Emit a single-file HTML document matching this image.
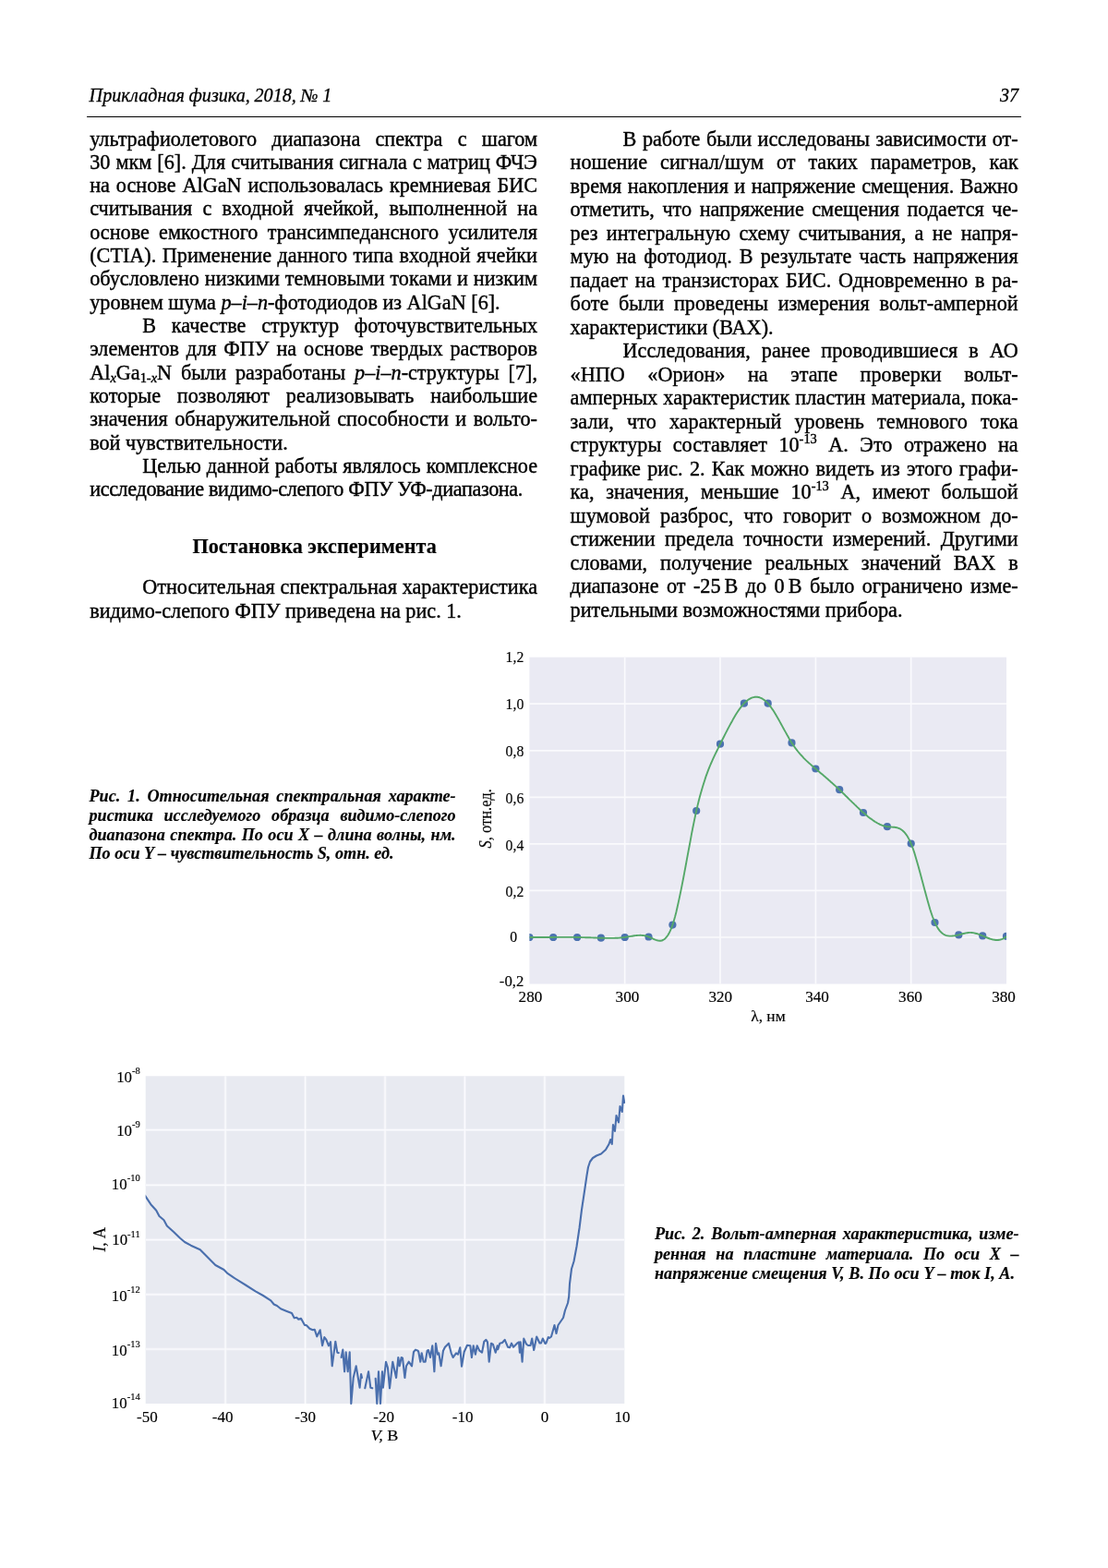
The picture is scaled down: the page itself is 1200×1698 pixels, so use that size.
<!DOCTYPE html>
<html lang="ru"><head><meta charset="utf-8"><title>Прикладная физика, 2018, № 1</title>
<style>
html,body{margin:0;padding:0;background:#fff}
body{width:1200px;height:1698px;position:relative;overflow:hidden;font-family:"Liberation Serif",serif;color:#000}
.l{position:absolute;white-space:nowrap;margin:0;-webkit-text-stroke:0.4px #000}
.b,.h{font-size:22.2px;line-height:26px;height:26px}
.h{font-weight:bold;-webkit-text-stroke-width:0.15px}
.hd{font-size:20.15px;line-height:24px;height:24px;font-style:italic;-webkit-text-stroke-width:0.3px}
.c{font-size:18.15px;line-height:21px;height:21px;font-style:italic;font-weight:bold;-webkit-text-stroke-width:0.15px}
.sb{font-size:14.4px;position:relative;top:3.2px;line-height:0}
.sp{font-size:14.4px;position:relative;top:-9px;line-height:0}
.ns{font-size:16px;word-spacing:0}
.rule{position:absolute;left:94px;top:125.5px;width:1012.2px;height:1.6px;background:#000}
svg{position:absolute;left:0;top:0}
svg text{font-family:"Liberation Serif",serif;fill:#000;stroke:#000;stroke-width:0.15px}
.t{font-size:16px}
.t2{font-size:17.2px}
.t3{font-size:17px}
.g{stroke:#fafafd;stroke-width:1.7}
.g2{stroke:#fbfbfe;stroke-width:1.2}
.g2h{stroke:#eff0f6;stroke-width:3}
</style></head><body>
<div class="rule"></div>
<div class="l b" style="left:97.20px;top:137px;line-height:27px;height:27px;word-spacing:10.704px">ультрафиолетового диапазона спектра с шагом</div>
<div class="l b" style="left:97.20px;top:162px;line-height:27px;height:27px;word-spacing:0.481px">30 мкм [6]. Для считывания сигнала с матриц ФЧЭ</div>
<div class="l b" style="left:97.20px;top:188px;word-spacing:1.404px">на основе AlGaN использовалась кремниевая БИС</div>
<div class="l b" style="left:97.20px;top:213px;word-spacing:5.666px">считывания с входной ячейкой, выполненной на</div>
<div class="l b" style="left:97.20px;top:238px;line-height:27px;height:27px;word-spacing:4.709px">основе емкостного трансимпедансного усилителя</div>
<div class="l b" style="left:97.20px;top:264px;word-spacing:0.963px">(CTIA). Применение данного типа входной ячейки</div>
<div class="l b" style="left:97.20px;top:289px;word-spacing:0.326px">обусловлено низкими темновыми токами и низким</div>
<div class="l b" style="left:97.20px;top:314px;line-height:27px;height:27px">уровнем шума <i>p–i–n</i>-фотодиодов из AlGaN [6].</div>
<div class="l b" style="left:154.20px;top:340px;word-spacing:11.220px">В качестве структур фоточувствительных</div>
<div class="l b" style="left:97.20px;top:365px;word-spacing:2.331px">элементов для ФПУ на основе твердых растворов</div>
<div class="l b" style="left:97.20px;top:390px;line-height:27px;height:27px;word-spacing:4.302px">Al<span class="sb"><i>x</i></span>Ga<span class="sb">1-<i>x</i></span>N были разработаны <i>p–i–n</i>-структуры [7],</div>
<div class="l b" style="left:97.20px;top:415px;line-height:27px;height:27px;word-spacing:12.324px">которые позволяют реализовывать наибольшие</div>
<div class="l b" style="left:97.20px;top:441px;word-spacing:1.950px">значения обнаружительной способности и вольто-</div>
<div class="l b" style="left:97.20px;top:466px;line-height:27px;height:27px">вой чувствительности.</div>
<div class="l b" style="left:154.20px;top:491px;line-height:27px;height:27px;word-spacing:0.454px">Целью данной работы являлось комплексное</div>
<div class="l b" style="left:97.20px;top:517px;letter-spacing:-0.381px">исследование видимо-слепого ФПУ УФ-диапазона.</div>
<div class="l h" style="left:208.45px;top:579px">Постановка эксперимента</div>
<div class="l b" style="left:154.20px;top:623px;word-spacing:0.252px">Относительная спектральная характеристика</div>
<div class="l b" style="left:97.20px;top:649px">видимо-слепого ФПУ приведена на рис. 1.</div>
<div class="l b" style="left:674.60px;top:137px;line-height:27px;height:27px;word-spacing:0.954px">В работе были исследованы зависимости от-</div>
<div class="l b" style="left:617.60px;top:163px;word-spacing:8.420px">ношение сигнал/шум от таких параметров, как</div>
<div class="l b" style="left:617.60px;top:188px;line-height:27px;height:27px;word-spacing:0.883px">время накопления и напряжение смещения. Важно</div>
<div class="l b" style="left:617.60px;top:214px;word-spacing:2.992px">отметить, что напряжение смещения подается че-</div>
<div class="l b" style="left:617.60px;top:239px;line-height:27px;height:27px;word-spacing:3.728px">рез интегральную схему считывания, а не напря-</div>
<div class="l b" style="left:617.60px;top:265px;word-spacing:2.538px">мую на фотодиод. В результате часть напряжения</div>
<div class="l b" style="left:617.60px;top:290px;line-height:27px;height:27px;word-spacing:2.306px">падает на транзисторах БИС. Одновременно в ра-</div>
<div class="l b" style="left:617.60px;top:316px;word-spacing:5.259px">боте были проведены измерения вольт-амперной</div>
<div class="l b" style="left:617.60px;top:341px;line-height:27px;height:27px">характеристики (ВАХ).</div>
<div class="l b" style="left:674.60px;top:367px;word-spacing:6.455px">Исследования, ранее проводившиеся в АО</div>
<div class="l b" style="left:617.60px;top:392px;line-height:27px;height:27px;word-spacing:19.001px">«НПО «Орион» на этапе проверки вольт-</div>
<div class="l b" style="left:617.60px;top:418px;word-spacing:0.654px">амперных характеристик пластин материала, пока-</div>
<div class="l b" style="left:617.60px;top:443px;line-height:27px;height:27px;word-spacing:8.633px">зали, что характерный уровень темнового тока</div>
<div class="l b" style="left:617.60px;top:469px;word-spacing:6.931px">структуры составляет 10<span class="sp">-13</span> А. Это отражено на</div>
<div class="l b" style="left:617.60px;top:494px;line-height:27px;height:27px;word-spacing:1.757px">графике рис. 2. Как можно видеть из этого графи-</div>
<div class="l b" style="left:617.60px;top:520px;word-spacing:7.191px">ка, значения, меньшие 10<span class="sp">-13</span> А, имеют большой</div>
<div class="l b" style="left:617.60px;top:545px;line-height:27px;height:27px;word-spacing:5.626px">шумовой разброс, что говорит о возможном до-</div>
<div class="l b" style="left:617.60px;top:571px;word-spacing:5.037px">стижении предела точности измерений. Другими</div>
<div class="l b" style="left:617.60px;top:596px;line-height:27px;height:27px;word-spacing:8.389px">словами, получение реальных значений ВАХ в</div>
<div class="l b" style="left:617.60px;top:622px;word-spacing:2.914px">диапазоне от -25<span class="ns"> </span>В до 0<span class="ns"> </span>В было ограничено изме-</div>
<div class="l b" style="left:617.60px;top:647px;line-height:27px;height:27px">рительными возможностями прибора.</div>
<div class="l hd" style="left:96.60px;top:91px;word-spacing:-0.341px">Прикладная физика, 2018, № 1</div>
<div class="l hd" style="left:1083.00px;top:91px">37</div>
<div class="l c" style="left:96.50px;top:852px;word-spacing:3.275px">Рис. 1. Относительная спектральная характе-</div>
<div class="l c" style="left:96.50px;top:873px;word-spacing:7.273px">ристика исследуемого образца видимо-слепого</div>
<div class="l c" style="left:96.50px;top:894px;word-spacing:0.923px">диапазона спектра. По оси X – длина волны, нм.</div>
<div class="l c" style="left:96.50px;top:914px;word-spacing:0.054px">По оси Y – чувствительность S, отн. ед.</div>
<div class="l c" style="left:709.00px;top:1326px;word-spacing:2.377px">Рис. 2. Вольт-амперная характеристика, изме-</div>
<div class="l c" style="left:709.00px;top:1347px;line-height:22px;height:22px;word-spacing:6.150px">ренная на пластине материала. По оси X –</div>
<div class="l c" style="left:709.00px;top:1368px;line-height:22px;height:22px;word-spacing:0.158px">напряжение смещения V, В. По оси Y – ток I, А.</div>
<svg width="1200" height="1698" viewBox="0 0 1200 1698">
<rect x="573.4" y="711.7" width="516.6" height="353.8" fill="#eaeaf3"/>
<line x1="676.7" x2="676.7" y1="711.7" y2="1065.5" class="g"/>
<line x1="780.0" x2="780.0" y1="711.7" y2="1065.5" class="g"/>
<line x1="883.4" x2="883.4" y1="711.7" y2="1065.5" class="g"/>
<line x1="986.7" x2="986.7" y1="711.7" y2="1065.5" class="g"/>
<line x1="573.4" x2="1090.0" y1="762.2" y2="762.2" class="g"/>
<line x1="573.4" x2="1090.0" y1="812.8" y2="812.8" class="g"/>
<line x1="573.4" x2="1090.0" y1="863.3" y2="863.3" class="g"/>
<line x1="573.4" x2="1090.0" y1="913.9" y2="913.9" class="g"/>
<line x1="573.4" x2="1090.0" y1="964.4" y2="964.4" class="g"/>
<line x1="573.4" x2="1090.0" y1="1015.0" y2="1015.0" class="g"/>
<clipPath id="cp1"><rect x="573.4" y="711.7" width="516.6" height="353.8"/></clipPath>
<g clip-path="url(#cp1)">
<circle cx="573.4" cy="1015.0" r="4.1" fill="#4c72b0"/>
<circle cx="599.2" cy="1015.0" r="4.1" fill="#4c72b0"/>
<circle cx="625.1" cy="1015.0" r="4.1" fill="#4c72b0"/>
<circle cx="650.9" cy="1015.7" r="4.1" fill="#4c72b0"/>
<circle cx="676.7" cy="1015.0" r="4.1" fill="#4c72b0"/>
<circle cx="702.5" cy="1014.5" r="4.1" fill="#4c72b0"/>
<circle cx="728.4" cy="1001.6" r="4.1" fill="#4c72b0"/>
<circle cx="754.2" cy="878.0" r="4.1" fill="#4c72b0"/>
<circle cx="780.0" cy="805.7" r="4.1" fill="#4c72b0"/>
<circle cx="805.9" cy="761.7" r="4.1" fill="#4c72b0"/>
<circle cx="831.7" cy="761.7" r="4.1" fill="#4c72b0"/>
<circle cx="857.5" cy="804.4" r="4.1" fill="#4c72b0"/>
<circle cx="883.4" cy="832.5" r="4.1" fill="#4c72b0"/>
<circle cx="909.2" cy="855.2" r="4.1" fill="#4c72b0"/>
<circle cx="935.0" cy="880.0" r="4.1" fill="#4c72b0"/>
<circle cx="960.9" cy="895.2" r="4.1" fill="#4c72b0"/>
<circle cx="986.7" cy="913.6" r="4.1" fill="#4c72b0"/>
<circle cx="1012.5" cy="999.0" r="4.1" fill="#4c72b0"/>
<circle cx="1038.3" cy="1012.4" r="4.1" fill="#4c72b0"/>
<circle cx="1064.2" cy="1013.4" r="4.1" fill="#4c72b0"/>
<circle cx="1090.0" cy="1013.9" r="4.1" fill="#4c72b0"/>
<path d="M573.4,1015.0 L574.7,1015.0 L576.0,1015.0 L577.3,1015.0 L578.6,1015.0 L579.9,1015.0 L581.1,1015.0 L582.4,1015.0 L583.7,1015.0 L585.0,1015.0 L586.3,1015.0 L587.6,1015.0 L588.9,1015.0 L590.2,1015.0 L591.5,1015.0 L592.8,1015.0 L594.1,1015.0 L595.4,1015.0 L596.6,1015.0 L597.9,1015.0 L599.2,1015.0 L600.5,1014.9 L601.8,1014.9 L603.1,1014.9 L604.4,1014.9 L605.7,1014.9 L607.0,1014.9 L608.3,1014.9 L609.6,1014.9 L610.9,1014.9 L612.1,1014.9 L613.4,1014.9 L614.7,1014.9 L616.0,1014.9 L617.3,1014.9 L618.6,1014.9 L619.9,1014.9 L621.2,1014.9 L622.5,1014.9 L623.8,1014.9 L625.1,1015.0 L626.4,1015.0 L627.6,1015.0 L628.9,1015.0 L630.2,1015.1 L631.5,1015.1 L632.8,1015.1 L634.1,1015.2 L635.4,1015.2 L636.7,1015.2 L638.0,1015.3 L639.3,1015.3 L640.6,1015.4 L641.8,1015.4 L643.1,1015.5 L644.4,1015.5 L645.7,1015.5 L647.0,1015.6 L648.3,1015.6 L649.6,1015.7 L650.9,1015.7 L652.2,1015.8 L653.5,1015.8 L654.8,1015.8 L656.1,1015.9 L657.3,1015.9 L658.6,1015.9 L659.9,1015.9 L661.2,1015.9 L662.5,1015.9 L663.8,1015.9 L665.1,1015.9 L666.4,1015.8 L667.7,1015.8 L669.0,1015.7 L670.3,1015.6 L671.6,1015.5 L672.8,1015.4 L674.1,1015.3 L675.4,1015.1 L676.7,1015.0 L678.0,1014.8 L679.3,1014.6 L680.6,1014.3 L681.9,1014.1 L683.2,1013.9 L684.5,1013.7 L685.8,1013.5 L687.1,1013.3 L688.3,1013.1 L689.6,1013.0 L690.9,1012.9 L692.2,1012.9 L693.5,1012.8 L694.8,1012.9 L696.1,1013.0 L697.4,1013.1 L698.7,1013.3 L700.0,1013.6 L701.3,1014.0 L702.5,1014.5 L703.8,1015.0 L705.1,1015.6 L706.4,1016.2 L707.7,1016.8 L709.0,1017.4 L710.3,1017.9 L711.6,1018.3 L712.9,1018.6 L714.2,1018.8 L715.5,1018.8 L716.8,1018.5 L718.0,1018.0 L719.3,1017.2 L720.6,1016.2 L721.9,1014.7 L723.2,1013.0 L724.5,1010.8 L725.8,1008.2 L727.1,1005.1 L728.4,1001.6 L729.7,997.5 L731.0,993.0 L732.3,988.0 L733.5,982.7 L734.8,976.9 L736.1,970.9 L737.4,964.6 L738.7,958.1 L740.0,951.5 L741.3,944.6 L742.6,937.7 L743.9,930.7 L745.2,923.7 L746.5,916.8 L747.8,909.9 L749.0,903.1 L750.3,896.5 L751.6,890.1 L752.9,883.9 L754.2,878.0 L755.5,872.4 L756.8,867.1 L758.1,862.1 L759.4,857.4 L760.7,852.9 L762.0,848.7 L763.3,844.7 L764.5,840.9 L765.8,837.4 L767.1,833.9 L768.4,830.7 L769.7,827.5 L771.0,824.6 L772.3,821.7 L773.6,818.9 L774.9,816.2 L776.2,813.5 L777.5,810.9 L778.7,808.3 L780.0,805.7 L781.3,803.1 L782.6,800.5 L783.9,798.0 L785.2,795.4 L786.5,792.9 L787.8,790.3 L789.1,787.9 L790.4,785.4 L791.7,783.0 L793.0,780.7 L794.2,778.4 L795.5,776.2 L796.8,774.0 L798.1,772.0 L799.4,770.0 L800.7,768.1 L802.0,766.4 L803.3,764.7 L804.6,763.2 L805.9,761.7 L807.2,760.4 L808.5,759.3 L809.7,758.2 L811.0,757.3 L812.3,756.6 L813.6,755.9 L814.9,755.4 L816.2,755.1 L817.5,754.8 L818.8,754.7 L820.1,754.8 L821.4,755.0 L822.7,755.3 L824.0,755.8 L825.2,756.4 L826.5,757.2 L827.8,758.1 L829.1,759.2 L830.4,760.4 L831.7,761.7 L833.0,763.2 L834.3,764.9 L835.6,766.7 L836.9,768.6 L838.2,770.6 L839.4,772.6 L840.7,774.8 L842.0,777.0 L843.3,779.3 L844.6,781.6 L845.9,784.0 L847.2,786.4 L848.5,788.7 L849.8,791.1 L851.1,793.4 L852.4,795.8 L853.7,798.0 L854.9,800.2 L856.2,802.4 L857.5,804.4 L858.8,806.4 L860.1,808.3 L861.4,810.1 L862.7,811.8 L864.0,813.5 L865.3,815.1 L866.6,816.6 L867.9,818.0 L869.2,819.4 L870.4,820.8 L871.7,822.1 L873.0,823.4 L874.3,824.6 L875.6,825.8 L876.9,826.9 L878.2,828.1 L879.5,829.2 L880.8,830.3 L882.1,831.4 L883.4,832.5 L884.7,833.6 L885.9,834.7 L887.2,835.8 L888.5,836.9 L889.8,838.0 L891.1,839.1 L892.4,840.2 L893.7,841.3 L895.0,842.4 L896.3,843.5 L897.6,844.7 L898.9,845.8 L900.1,847.0 L901.4,848.1 L902.7,849.3 L904.0,850.4 L905.3,851.6 L906.6,852.8 L907.9,854.0 L909.2,855.2 L910.5,856.5 L911.8,857.7 L913.1,859.0 L914.4,860.2 L915.6,861.5 L916.9,862.7 L918.2,864.0 L919.5,865.3 L920.8,866.6 L922.1,867.8 L923.4,869.1 L924.7,870.3 L926.0,871.6 L927.3,872.8 L928.6,874.1 L929.9,875.3 L931.1,876.5 L932.4,877.7 L933.7,878.9 L935.0,880.0 L936.3,881.1 L937.6,882.2 L938.9,883.3 L940.2,884.4 L941.5,885.4 L942.8,886.4 L944.1,887.3 L945.4,888.3 L946.6,889.1 L947.9,890.0 L949.2,890.7 L950.5,891.5 L951.8,892.1 L953.1,892.8 L954.4,893.3 L955.7,893.8 L957.0,894.3 L958.3,894.6 L959.6,894.9 L960.9,895.2 L962.1,895.3 L963.4,895.4 L964.7,895.5 L966.0,895.6 L967.3,895.7 L968.6,895.8 L969.9,896.0 L971.2,896.2 L972.5,896.6 L973.8,897.1 L975.1,897.7 L976.3,898.5 L977.6,899.5 L978.9,900.7 L980.2,902.2 L981.5,903.8 L982.8,905.8 L984.1,908.1 L985.4,910.7 L986.7,913.6 L988.0,916.9 L989.3,920.5 L990.6,924.4 L991.8,928.6 L993.1,933.0 L994.4,937.5 L995.7,942.2 L997.0,947.1 L998.3,951.9 L999.6,956.8 L1000.9,961.7 L1002.2,966.5 L1003.5,971.3 L1004.8,975.9 L1006.1,980.4 L1007.3,984.7 L1008.6,988.7 L1009.9,992.5 L1011.2,995.9 L1012.5,999.0 L1013.8,1001.8 L1015.1,1004.1 L1016.4,1006.2 L1017.7,1007.9 L1019.0,1009.3 L1020.3,1010.5 L1021.6,1011.5 L1022.8,1012.2 L1024.1,1012.8 L1025.4,1013.2 L1026.7,1013.4 L1028.0,1013.6 L1029.3,1013.6 L1030.6,1013.6 L1031.9,1013.5 L1033.2,1013.4 L1034.5,1013.2 L1035.8,1013.0 L1037.0,1012.7 L1038.3,1012.4 L1039.6,1012.0 L1040.9,1011.7 L1042.2,1011.3 L1043.5,1011.0 L1044.8,1010.7 L1046.1,1010.4 L1047.4,1010.2 L1048.7,1010.0 L1050.0,1009.9 L1051.3,1009.9 L1052.5,1010.0 L1053.8,1010.1 L1055.1,1010.4 L1056.4,1010.7 L1057.7,1011.0 L1059.0,1011.4 L1060.3,1011.9 L1061.6,1012.3 L1062.9,1012.8 L1064.2,1013.4 L1065.5,1013.9 L1066.8,1014.5 L1068.0,1015.0 L1069.3,1015.5 L1070.6,1016.0 L1071.9,1016.5 L1073.2,1016.9 L1074.5,1017.3 L1075.8,1017.6 L1077.1,1017.8 L1078.4,1018.0 L1079.7,1018.0 L1081.0,1018.0 L1082.3,1017.8 L1083.5,1017.5 L1084.8,1017.1 L1086.1,1016.6 L1087.4,1015.9 L1088.7,1015.0 L1090.0,1013.9" fill="none" stroke="#55a868" stroke-width="1.9" stroke-linejoin="round"/>
</g>
<text transform="translate(567.3,716.7) scale(0.985,1)" text-anchor="end" class="t">1,2</text>
<text transform="translate(567.3,767.5) scale(0.985,1)" text-anchor="end" class="t">1,0</text>
<text transform="translate(567.3,818.7) scale(0.985,1)" text-anchor="end" class="t">0,8</text>
<text transform="translate(567.3,870.2) scale(0.985,1)" text-anchor="end" class="t">0,6</text>
<text transform="translate(567.3,920.5) scale(0.985,1)" text-anchor="end" class="t">0,4</text>
<text transform="translate(567.3,970.7) scale(0.985,1)" text-anchor="end" class="t">0,2</text>
<text transform="translate(560.2,1020.3) scale(0.985,1)" text-anchor="end" class="t">0</text>
<text transform="translate(567.3,1068.2) scale(1.045,1)" text-anchor="end" class="t">-0,2</text>
<text transform="translate(574.4,1084.6) scale(1.07,1)" text-anchor="middle" class="t">280</text>
<text transform="translate(679.4,1084.6) scale(1.07,1)" text-anchor="middle" class="t">300</text>
<text transform="translate(780.2,1084.6) scale(1.07,1)" text-anchor="middle" class="t">320</text>
<text transform="translate(885.0,1084.6) scale(1.07,1)" text-anchor="middle" class="t">340</text>
<text transform="translate(985.9,1084.6) scale(1.07,1)" text-anchor="middle" class="t">360</text>
<text transform="translate(1087.0,1084.6) scale(1.07,1)" text-anchor="middle" class="t">380</text>
<text transform="translate(813.2,1106.0) scale(1.09,1)" text-anchor="start" class="t">λ, нм</text>
<text transform="translate(532.2,886.3) rotate(-90) scale(1.03,1.18)" text-anchor="middle" class="t"><tspan font-style="italic">S</tspan>, отн.ед.</text>
<rect x="157.7" y="1165.3" width="518.6" height="354.7" fill="#e8eaf1"/>
<line x1="244.1" x2="244.1" y1="1165.3" y2="1520.0" class="g2h"/>
<line x1="330.6" x2="330.6" y1="1165.3" y2="1520.0" class="g2h"/>
<line x1="417.0" x2="417.0" y1="1165.3" y2="1520.0" class="g2h"/>
<line x1="503.4" x2="503.4" y1="1165.3" y2="1520.0" class="g2h"/>
<line x1="589.9" x2="589.9" y1="1165.3" y2="1520.0" class="g2h"/>
<line x1="157.7" x2="676.3" y1="1223.6" y2="1223.6" class="g2h"/>
<line x1="157.7" x2="676.3" y1="1283.3" y2="1283.3" class="g2h"/>
<line x1="157.7" x2="676.3" y1="1342.6" y2="1342.6" class="g2h"/>
<line x1="157.7" x2="676.3" y1="1401.8" y2="1401.8" class="g2h"/>
<line x1="157.7" x2="676.3" y1="1461.0" y2="1461.0" class="g2h"/>
<line x1="244.1" x2="244.1" y1="1165.3" y2="1520.0" class="g2"/>
<line x1="330.6" x2="330.6" y1="1165.3" y2="1520.0" class="g2"/>
<line x1="417.0" x2="417.0" y1="1165.3" y2="1520.0" class="g2"/>
<line x1="503.4" x2="503.4" y1="1165.3" y2="1520.0" class="g2"/>
<line x1="589.9" x2="589.9" y1="1165.3" y2="1520.0" class="g2"/>
<line x1="157.7" x2="676.3" y1="1223.6" y2="1223.6" class="g2"/>
<line x1="157.7" x2="676.3" y1="1283.3" y2="1283.3" class="g2"/>
<line x1="157.7" x2="676.3" y1="1342.6" y2="1342.6" class="g2"/>
<line x1="157.7" x2="676.3" y1="1401.8" y2="1401.8" class="g2"/>
<line x1="157.7" x2="676.3" y1="1461.0" y2="1461.0" class="g2"/>
<clipPath id="cp2"><rect x="157.7" y="1165.3" width="519.6" height="355.7"/></clipPath>
<path clip-path="url(#cp2)" d="M157.0,1294.7 L163.3,1304.2 L169.2,1310.8 L172.5,1317.0 L177.5,1321.3 L180.8,1327.5 L188.3,1334.2 L195.0,1340.8 L200.0,1345.0 L206.7,1348.7 L216.7,1353.3 L221.7,1358.3 L233.3,1370.0 L242.5,1375.0 L246.7,1379.2 L253.3,1383.7 L266.7,1392.0 L276.7,1398.3 L285.0,1403.0 L293.3,1408.3 L296.7,1412.5 L300.0,1414.0 L304.0,1417.3 L310.0,1419.7 L316.0,1422.0 L318.7,1427.3 L321.3,1426.7 L323.3,1428.7 L326.0,1427.7 L330.0,1434.9 L332.0,1435.3 L335.3,1438.7 L338.7,1440.3 L340.7,1439.7 L343.3,1447.3 L346.7,1440.3 L349.1,1457.1 L351.3,1448.0 L353.3,1450.7 L356.0,1457.3 L358.0,1453.1 L359.7,1479.3 L363.3,1452.7 L365.3,1464.7 L366.7,1465.1 M369.6,1470.0 L371.3,1461.6 L373.1,1485.3 L374.7,1464.3 L376.7,1485.3 L378.7,1464.3 L380.3,1520.0 L382.7,1492.0 L385.7,1479.3 L389.6,1502.7 L391.1,1488.0 L392.0,1492.0 M395.3,1503.3 L399.1,1485.3 L401.3,1502.7 L403.3,1503.3 M406.7,1492.7 L408.3,1520.0 L410.0,1485.3 L412.0,1520.0 L414.0,1485.3 L414.9,1502.7 L418.0,1474.7 L420.0,1481.3 L422.0,1503.3 L425.3,1474.7 L429.1,1492.0 L431.3,1470.0 L432.7,1479.3 L434.7,1470.0 L436.0,1470.7 L438.4,1492.0 L440.0,1479.3 L442.7,1474.7 L446.0,1479.3 L448.0,1464.0 L450.0,1461.6 L452.7,1462.7 L453.3,1464.0 L455.3,1474.7 L456.7,1465.3 L458.7,1474.7 L460.7,1474.7 L462.7,1462.7 L464.0,1462.0 L466.0,1470.0 L468.3,1457.3 L470.4,1485.3 L472.0,1454.7 L474.0,1466.7 L475.3,1465.3 L477.6,1479.3 L480.0,1462.7 L482.0,1458.7 L486.0,1454.7 L488.7,1465.3 L490.7,1470.0 L494.0,1465.3 L496.0,1466.7 L498.3,1459.3 L500.0,1479.7 L502.7,1464.0 L506.0,1456.7 L509.3,1457.3 L510.9,1470.0 L512.7,1457.3 L514.9,1466.7 L516.7,1457.3 L519.3,1462.7 L522.0,1464.7 L524.3,1452.7 L526.4,1450.9 L528.0,1453.3 L529.7,1474.7 L532.0,1454.7 L534.0,1456.0 L536.7,1464.7 L538.7,1457.3 L539.3,1461.3 L541.3,1454.7 L544.0,1454.0 L546.7,1450.9 L550.0,1458.7 L552.0,1459.3 L554.0,1454.7 L556.0,1458.7 L560.0,1454.7 L562.0,1453.3 L562.9,1464.7 L563.7,1453.3 L565.6,1474.7 L567.3,1449.6 L570.0,1455.5 L572.0,1457.0 L574.5,1457.0 L576.2,1449.5 L578.2,1462.0 L581.2,1447.5 L584.5,1454.5 L586.0,1454.5 L587.8,1449.5 L590.5,1455.0 L591.5,1454.5 L593.8,1448.0 L595.0,1449.0 L597.0,1447.5 L600.5,1435.0 L602.5,1444.0 L604.5,1435.0 L610.0,1427.0 L612.0,1419.0 L615.0,1411.0 L616.2,1404.0 L617.0,1390.0 L619.0,1374.0 L621.5,1366.0 L624.5,1350.0 L627.5,1330.0 L630.0,1310.0 L633.0,1290.0 L635.5,1273.0 L637.0,1264.0 L639.0,1258.0 L642.0,1254.0 L646.0,1251.5 L651.0,1249.5 L656.0,1245.0 L659.5,1239.0 L661.2,1234.0 L662.8,1239.0 L664.0,1218.0 L666.0,1225.0 L667.5,1208.0 L670.0,1215.5 L671.5,1198.0 L673.8,1204.0 L675.0,1186.5 L676.2,1194.0" fill="none" stroke="#4a6fad" stroke-width="2.1" stroke-linejoin="round" stroke-linecap="round"/>
<text transform="translate(151.8,1171.7) scale(0.98,1)" text-anchor="end" class="t2">10<tspan dy="-8.6" font-size="10.8">-8</tspan></text>
<text transform="translate(151.8,1229.8) scale(0.98,1)" text-anchor="end" class="t2">10<tspan dy="-8.6" font-size="10.8">-9</tspan></text>
<text transform="translate(151.8,1287.8) scale(0.98,1)" text-anchor="end" class="t2">10<tspan dy="-8.6" font-size="10.8">-10</tspan></text>
<text transform="translate(151.8,1348.2) scale(0.98,1)" text-anchor="end" class="t2">10<tspan dy="-8.6" font-size="10.8">-11</tspan></text>
<text transform="translate(151.8,1408.8) scale(0.98,1)" text-anchor="end" class="t2">10<tspan dy="-8.6" font-size="10.8">-12</tspan></text>
<text transform="translate(151.8,1467.8) scale(0.98,1)" text-anchor="end" class="t2">10<tspan dy="-8.6" font-size="10.8">-13</tspan></text>
<text transform="translate(151.8,1524.6) scale(0.98,1)" text-anchor="end" class="t2">10<tspan dy="-8.6" font-size="10.8">-14</tspan></text>
<text transform="translate(148.1,1539.6) scale(1.0,1)" text-anchor="start" class="t3">-50</text>
<text transform="translate(229.8,1539.6) scale(1.0,1)" text-anchor="start" class="t3">-40</text>
<text transform="translate(319.3,1539.6) scale(1.0,1)" text-anchor="start" class="t3">-30</text>
<text transform="translate(404.3,1539.6) scale(1.0,1)" text-anchor="start" class="t3">-20</text>
<text transform="translate(489.8,1539.6) scale(1.0,1)" text-anchor="start" class="t3">-10</text>
<text transform="translate(585.8,1539.6) scale(1.0,1)" text-anchor="start" class="t3">0</text>
<text transform="translate(665.6,1539.6) scale(1.0,1)" text-anchor="start" class="t3">10</text>
<text transform="translate(401.5,1559.5) scale(1.07,1)" text-anchor="start" class="t3"><tspan font-style="italic">V,</tspan> В</text>
<text transform="translate(114,1342.2) rotate(-90) scale(1,1.07)" text-anchor="middle" class="t3"><tspan font-style="italic">I</tspan>, А</text>
</svg>
</body></html>
